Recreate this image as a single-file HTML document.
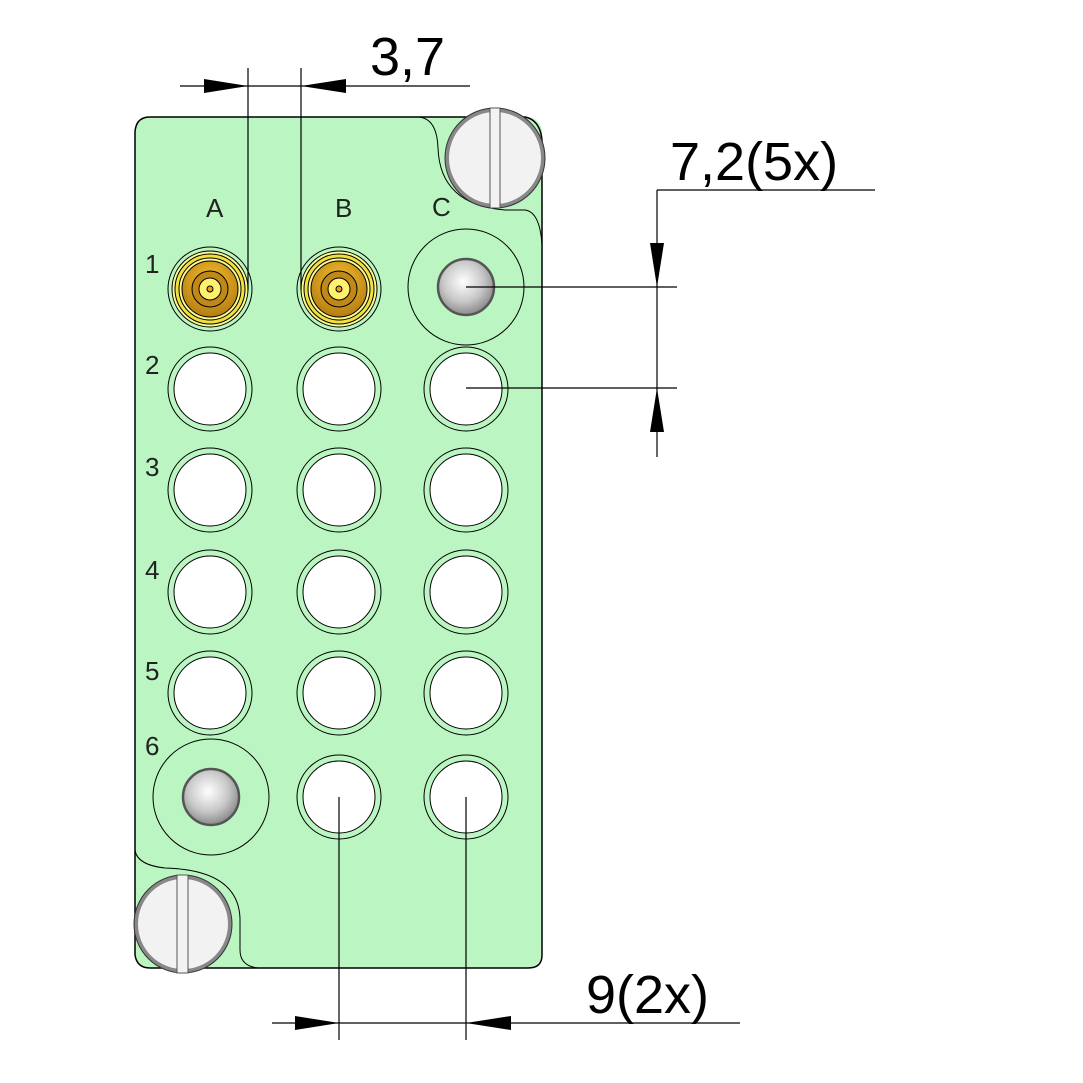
<!DOCTYPE html>
<html><head><style>html,body{margin:0;padding:0;background:#fff}svg{display:block}</style></head>
<body>
<svg width="1083" height="1083" viewBox="0 0 1083 1083" xmlns="http://www.w3.org/2000/svg" font-family="Liberation Sans, sans-serif">
<defs>
<radialGradient id="ball" cx="0.45" cy="0.4" r="0.6">
<stop offset="0" stop-color="#ffffff"/><stop offset="0.6" stop-color="#c8c8c8"/><stop offset="1" stop-color="#8a8a8a"/>
</radialGradient>
<radialGradient id="gold" cx="0.5" cy="0.35" r="0.7">
<stop offset="0" stop-color="#f5c030"/><stop offset="1" stop-color="#b07810"/>
</radialGradient>
</defs>
<!-- plate background -->
<rect x="135" y="117" width="407" height="851" rx="15" fill="#bbf5c1"/>
<path d="M135 132 Q136 117 150 117 L525 117 Q540 120 542 140" fill="none" stroke="#000" stroke-width="1.5"/>
<path d="M135 132 L135 955 Q137 968 150 968 L528 968 Q542 968 542 955 L542 140" fill="none" stroke="#000" stroke-width="1.5"/>
<path d="M418 117 Q437 118 438 148 Q440 205 505 210 L525 210 Q540 212 542 245" fill="none" stroke="#000" stroke-width="1"/>
<path d="M135 850 Q137 865 165 868 Q238 870 240 918 L240 950 Q240 966 258 968" fill="none" stroke="#000" stroke-width="1"/>

<g stroke="#000" stroke-width="1">
<g transform="translate(210,389)"><circle r="42" fill="#bbf5c1"/><circle r="36" fill="#fff"/></g>
<g transform="translate(339,389)"><circle r="42" fill="#bbf5c1"/><circle r="36" fill="#fff"/></g>
<g transform="translate(466,389)"><circle r="42" fill="#bbf5c1"/><circle r="36" fill="#fff"/></g>
<g transform="translate(210,490)"><circle r="42" fill="#bbf5c1"/><circle r="36" fill="#fff"/></g>
<g transform="translate(339,490)"><circle r="42" fill="#bbf5c1"/><circle r="36" fill="#fff"/></g>
<g transform="translate(466,490)"><circle r="42" fill="#bbf5c1"/><circle r="36" fill="#fff"/></g>
<g transform="translate(210,592)"><circle r="42" fill="#bbf5c1"/><circle r="36" fill="#fff"/></g>
<g transform="translate(339,592)"><circle r="42" fill="#bbf5c1"/><circle r="36" fill="#fff"/></g>
<g transform="translate(466,592)"><circle r="42" fill="#bbf5c1"/><circle r="36" fill="#fff"/></g>
<g transform="translate(210,693)"><circle r="42" fill="#bbf5c1"/><circle r="36" fill="#fff"/></g>
<g transform="translate(339,693)"><circle r="42" fill="#bbf5c1"/><circle r="36" fill="#fff"/></g>
<g transform="translate(466,693)"><circle r="42" fill="#bbf5c1"/><circle r="36" fill="#fff"/></g>
<g transform="translate(339,797)"><circle r="42" fill="#bbf5c1"/><circle r="36" fill="#fff"/></g>
<g transform="translate(466,797)"><circle r="42" fill="#bbf5c1"/><circle r="36" fill="#fff"/></g>
<g transform="translate(466,287)"><circle r="58" fill="#bbf5c1"/><circle r="28" fill="url(#ball)" stroke-width="2.5" stroke="#555"/></g>
<g transform="translate(211,797)"><circle r="58" fill="#bbf5c1"/><circle r="28" fill="url(#ball)" stroke-width="2.5" stroke="#555"/></g>
<g transform="translate(210,289)"><circle r="42" fill="#bbf5c1"/><circle r="38" fill="#fafa90"/><circle r="35" fill="#f2e040"/><circle r="31" fill="#fafa90"/><circle r="28" fill="url(#gold)"/><circle r="18" fill="#c08818"/><circle r="11" fill="#fff070"/><circle r="3" fill="#e0a020"/></g>
<g transform="translate(339,289)"><circle r="42" fill="#bbf5c1"/><circle r="38" fill="#fafa90"/><circle r="35" fill="#f2e040"/><circle r="31" fill="#fafa90"/><circle r="28" fill="url(#gold)"/><circle r="18" fill="#c08818"/><circle r="11" fill="#fff070"/><circle r="3" fill="#e0a020"/></g>
</g>
<g transform="translate(495,158)"><circle r="48" fill="#f2f2f2" stroke="#888" stroke-width="4"/><circle r="50" fill="none" stroke="#333" stroke-width="1"/><rect x="-5" y="-50" width="10" height="100" fill="#f2f2f2" stroke="#555" stroke-width="1"/></g>
<g transform="translate(183,924)"><circle r="47" fill="#f2f2f2" stroke="#888" stroke-width="4"/><circle r="49" fill="none" stroke="#333" stroke-width="1"/><rect x="-6" y="-49" width="11" height="98" fill="#f2f2f2" stroke="#555" stroke-width="1"/></g>

<g font-size="26" fill="#222">
<text x="206" y="217">A</text><text x="335" y="217">B</text><text x="432" y="216">C</text>
<text x="145" y="273">1</text><text x="145" y="374">2</text><text x="145" y="476">3</text><text x="145" y="579">4</text><text x="145" y="680">5</text><text x="145" y="755">6</text>
</g>

<g stroke="#000" stroke-width="1.2" fill="none">
<line x1="248" y1="68" x2="248" y2="290"/><line x1="301" y1="68" x2="301" y2="290"/>
<line x1="180" y1="86" x2="470" y2="86"/>
<line x1="466" y1="287" x2="677" y2="287"/><line x1="466" y1="388" x2="677" y2="388"/>
<line x1="657" y1="190" x2="657" y2="457"/><line x1="657" y1="190" x2="875" y2="190"/>
<line x1="339" y1="797" x2="339" y2="1040"/><line x1="466" y1="797" x2="466" y2="1040"/>
<line x1="272" y1="1023" x2="740" y2="1023"/>
</g>
<g fill="#000">
<polygon points="248,86 204,79 204,93"/><polygon points="301,86 346,79 346,93"/>
<polygon points="657,287 650,243 664,243"/><polygon points="657,388 650,432 664,432"/>
<polygon points="339,1023 295,1016 295,1030"/><polygon points="466,1023 511,1016 511,1030"/>
</g>
<g font-size="54" fill="#000">
<text x="370" y="75">3,7</text>
<text x="670" y="180">7,2(5x)</text>
<text x="586" y="1013">9(2x)</text>
</g>
</svg>
</body></html>
